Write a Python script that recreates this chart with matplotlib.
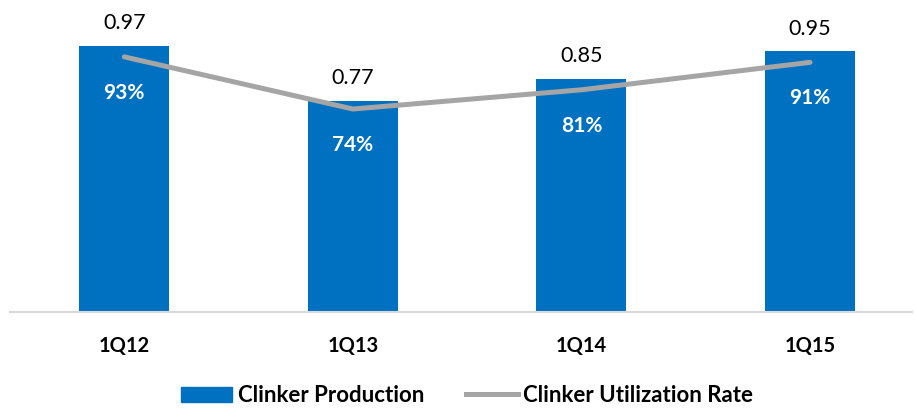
import numpy as np
import matplotlib.pyplot as plt
from matplotlib.lines import Line2D
from matplotlib.patches import Patch

plt.rcParams['font.family'] = ['Lato', 'DejaVu Sans']

# ----------------------------
# Data
# ----------------------------
quarters = ["1Q12", "1Q13", "1Q14", "1Q15"]
production = [0.97, 0.77, 0.85, 0.95]
utilization = [93, 74, 81, 91]

bar_color = "#0070C0"
line_color = "#A5A5A5"

# ----------------------------
# Plot
# ----------------------------
fig = plt.figure(figsize=(9.16, 4.08), dpi=100)
ax = fig.add_axes([10 / 916, 0.235, 902 / 916, 0.74])
x = np.arange(len(quarters))

ax.bar(x, production, width=0.394, color=bar_color, zorder=2)
ax.set_xlim(-0.5, 3.446)
ax.set_ylim(0, 1.1)

for xi, v in zip(x, production):
    ax.annotate(f"{v:.2f}", (xi, v), xytext=(0, 9), textcoords="offset points",
                ha="center", va="bottom", fontsize=15.5, color="black")

# utilization on its own percentage axis
ax2 = ax.twinx()
ax2.set_ylim(0, 110)
ax2.plot(x, utilization, color=line_color, linewidth=3.6, solid_capstyle="round", zorder=3)
for xi, v in zip(x, utilization):
    ax2.annotate(f"{v}%", (xi, v), xytext=(0, -26), textcoords="offset points",
                 ha="center", va="center", fontsize=15, fontweight="bold", color="white")

for a in (ax, ax2):
    for side in ("top", "right", "left"):
        a.spines[side].set_visible(False)
    a.set_yticks([])
ax2.spines["bottom"].set_visible(False)
ax.spines["bottom"].set_color("#D9D9D9")
ax.spines["bottom"].set_linewidth(1.5)

ax.set_xticks(x)
ax.set_xticklabels(quarters, fontsize=14.5, fontweight="bold")
ax.tick_params(axis="x", length=0, pad=17)

handles = [Patch(color=bar_color, label="Clinker Production"),
           Line2D([0], [0], color=line_color, linewidth=3.6, label="Clinker Utilization Rate")]
fig.legend(handles=handles, loc="center", bbox_to_anchor=(0.51, 0.03), ncol=2, frameon=False,
           prop={"size": 16, "weight": "bold"}, handlelength=2.3, handletextpad=0.25,
           columnspacing=1.9)

plt.savefig("out.png", dpi=100)
